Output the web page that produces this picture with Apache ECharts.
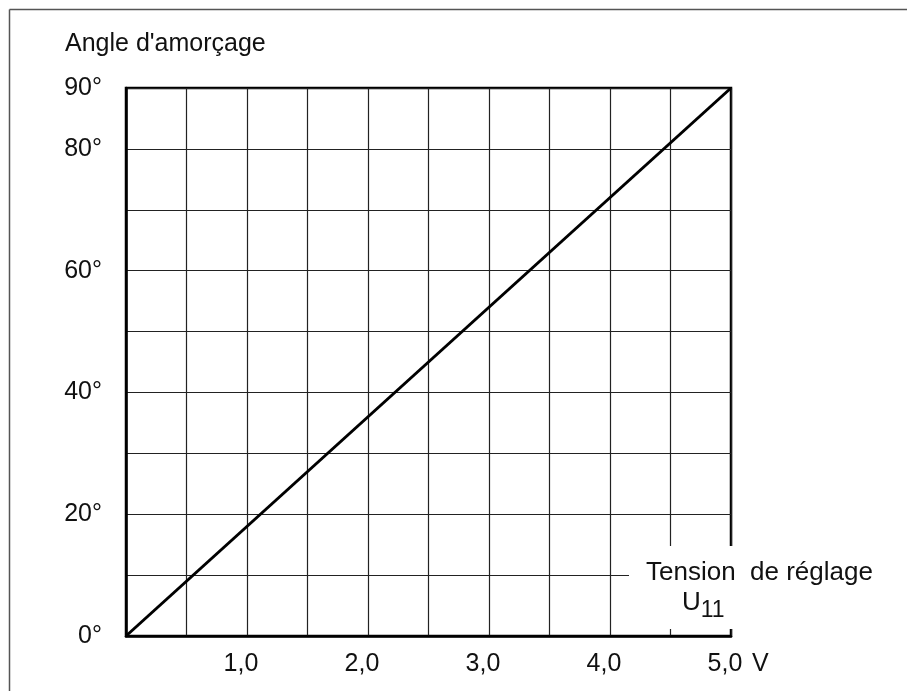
<!DOCTYPE html>
<html>
<head>
<meta charset="utf-8">
<script src="https://cdn.jsdelivr.net/npm/echarts@6/dist/echarts.min.js"></script>
<style>
  html, body { margin: 0; padding: 0; background: #fff; }
  #chart { width: 907px; height: 691px; }
</style>
</head>
<body>
<div id="chart"></div>
<script>
// Firing angle versus control voltage
const voltage = [0, 5.0];           // V
const angle = [0, 90];              // degrees
const xTickLabels = { 1: '1,0', 2: '2,0', 3: '3,0', 4: '4,0', 5: '5,0' };
const yTickLabels = { 0: '0°', 20: '20°', 40: '40°', 60: '60°', 80: '80°', 90: '90°' };

const FONT = '"Liberation Sans", Arial, Helvetica, sans-serif';
const FS = 25;
const chart = echarts.init(document.getElementById('chart'), null, { renderer: 'canvas' });

chart.setOption({
  backgroundColor: '#fff',
  animation: false,
  title: {
    text: "Angle d'amorçage",
    left: 60, top: 27,
    textStyle: { fontFamily: FONT, fontSize: FS, fontWeight: 'normal', color: '#111' }
  },
  grid: {
    left: 126, top: 88, right: 176, bottom: 55,
    show: true, borderColor: '#000', borderWidth: 2.5, backgroundColor: 'transparent'
  },
  xAxis: {
    type: 'value', min: 0, max: 5, interval: 0.5,
    name: 'V', nameLocation: 'end', nameGap: 21,
    nameTextStyle: { fontFamily: FONT, fontSize: FS, color: '#111', verticalAlign: 'top', padding: [16, 0, 0, 0] },
    axisLine: { show: true, lineStyle: { color: '#000', width: 2.5 } },
    axisTick: { show: false },
    splitLine: { show: true, lineStyle: { color: '#222', width: 1.2 } },
    axisLabel: {
      margin: 16, fontFamily: FONT, fontSize: FS, color: '#111',
      padding: [0, 12, 0, 0],
      formatter: v => xTickLabels[Math.round(v * 10) / 10] || ''
    }
  },
  yAxis: {
    type: 'value', min: 0, max: 90, interval: 10,
    axisLine: { show: true, lineStyle: { color: '#000', width: 2.5 } },
    axisTick: { show: false },
    splitLine: { show: true, lineStyle: { color: '#222', width: 1.2 } },
    axisLabel: {
      margin: 24, fontFamily: FONT, fontSize: FS, color: '#111',
      formatter: v => yTickLabels[v] || ''
    }
  },
  series: [{
    type: 'line',
    data: voltage.map((v, i) => [v, angle[i]]),
    symbol: 'none',
    lineStyle: { color: '#000', width: 3 },
    z: 5
  }],
  graphic: [
    // page frame (top and left edges)
    { type: 'line', shape: { x1: 9.5, y1: 9.5, x2: 907, y2: 9.5 }, style: { stroke: '#555', lineWidth: 1.5 }, z: 1 },
    { type: 'line', shape: { x1: 9.5, y1: 9.5, x2: 9.5, y2: 691 }, style: { stroke: '#555', lineWidth: 1.5 }, z: 1 },
    // cleared area behind the abscissa caption
    { type: 'rect', shape: { x: 629, y: 546, width: 105, height: 83 }, style: { fill: '#fff' }, z: 50 },
    { type: 'text', left: 646, top: 560, z: 60,
      style: { text: 'Tension  de réglage', font: '26px ' + FONT, fill: '#111' } },
    { type: 'text', left: 682, top: 590, z: 60,
      style: {
        text: '{u|U}{s|11}',
        rich: {
          u: { font: '26px ' + FONT, fill: '#111', verticalAlign: 'top' },
          s: { font: '23px ' + FONT, fill: '#111', padding: [9, 0, 0, 0] }
        }
      } }
  ]
});
</script>
</body>
</html>
